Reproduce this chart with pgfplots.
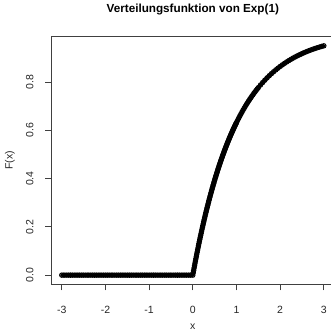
\documentclass[border=0pt]{standalone}
\usepackage{pgfplots}
\pgfplotsset{compat=1.18}
\usepackage{fontspec}
\setmainfont{Liberation Sans}
\pgfplotstableread[row sep=\\]{
x y\\
-3 0\\ -2.95 0\\ -2.9 0\\ -2.85 0\\ -2.8 0\\ -2.75 0\\ -2.7 0\\ -2.65 0\\ -2.6 0\\ -2.55 0\\
-2.5 0\\ -2.45 0\\ -2.4 0\\ -2.35 0\\ -2.3 0\\ -2.25 0\\ -2.2 0\\ -2.15 0\\ -2.1 0\\ -2.05 0\\
-2 0\\ -1.95 0\\ -1.9 0\\ -1.85 0\\ -1.8 0\\ -1.75 0\\ -1.7 0\\ -1.65 0\\ -1.6 0\\ -1.55 0\\
-1.5 0\\ -1.45 0\\ -1.4 0\\ -1.35 0\\ -1.3 0\\ -1.25 0\\ -1.2 0\\ -1.15 0\\ -1.1 0\\ -1.05 0\\
-1 0\\ -0.95 0\\ -0.9 0\\ -0.85 0\\ -0.8 0\\ -0.75 0\\ -0.7 0\\ -0.65 0\\ -0.6 0\\ -0.55 0\\
-0.5 0\\ -0.45 0\\ -0.4 0\\ -0.35 0\\ -0.3 0\\ -0.25 0\\ -0.2 0\\ -0.15 0\\ -0.1 0\\ -0.05 0\\
0.00 0.0000\\ 0.01 0.0100\\ 0.02 0.0198\\ 0.03 0.0296\\ 0.04 0.0392\\ 0.05 0.0488\\ 0.06 0.0582\\ 0.07 0.0676\\ 0.08 0.0769\\ 0.09 0.0861\\
0.10 0.0952\\ 0.11 0.1042\\ 0.12 0.1131\\ 0.13 0.1219\\ 0.14 0.1306\\ 0.15 0.1393\\ 0.16 0.1479\\ 0.17 0.1563\\ 0.18 0.1647\\ 0.19 0.1730\\
0.20 0.1813\\ 0.21 0.1894\\ 0.22 0.1975\\ 0.23 0.2055\\ 0.24 0.2134\\ 0.25 0.2212\\ 0.26 0.2289\\ 0.27 0.2366\\ 0.28 0.2442\\ 0.29 0.2517\\
0.30 0.2592\\ 0.31 0.2666\\ 0.32 0.2739\\ 0.33 0.2811\\ 0.34 0.2882\\ 0.35 0.2953\\ 0.36 0.3023\\ 0.37 0.3093\\ 0.38 0.3161\\ 0.39 0.3229\\
0.40 0.3297\\ 0.41 0.3364\\ 0.42 0.3430\\ 0.43 0.3495\\ 0.44 0.3560\\ 0.45 0.3624\\ 0.46 0.3687\\ 0.47 0.3750\\ 0.48 0.3812\\ 0.49 0.3874\\
0.50 0.3935\\ 0.51 0.3995\\ 0.52 0.4055\\ 0.53 0.4114\\ 0.54 0.4173\\ 0.55 0.4231\\ 0.56 0.4288\\ 0.57 0.4345\\ 0.58 0.4401\\ 0.59 0.4457\\
0.60 0.4512\\ 0.61 0.4566\\ 0.62 0.4621\\ 0.63 0.4674\\ 0.64 0.4727\\ 0.65 0.4780\\ 0.66 0.4831\\ 0.67 0.4883\\ 0.68 0.4934\\ 0.69 0.4984\\
0.70 0.5034\\ 0.71 0.5084\\ 0.72 0.5132\\ 0.73 0.5181\\ 0.74 0.5229\\ 0.75 0.5276\\ 0.76 0.5323\\ 0.77 0.5370\\ 0.78 0.5416\\ 0.79 0.5462\\
0.80 0.5507\\ 0.81 0.5551\\ 0.82 0.5596\\ 0.83 0.5640\\ 0.84 0.5683\\ 0.85 0.5726\\ 0.86 0.5768\\ 0.87 0.5811\\ 0.88 0.5852\\ 0.89 0.5893\\
0.90 0.5934\\ 0.91 0.5975\\ 0.92 0.6015\\ 0.93 0.6054\\ 0.94 0.6094\\ 0.95 0.6133\\ 0.96 0.6171\\ 0.97 0.6209\\ 0.98 0.6247\\ 0.99 0.6284\\
1.00 0.6321\\ 1.025 0.6412\\ 1.05 0.6501\\ 1.075 0.6587\\ 1.10 0.6671\\ 1.125 0.6754\\ 1.15 0.6834\\ 1.175 0.6912\\ 1.20 0.6988\\ 1.225 0.7063\\
1.25 0.7135\\ 1.275 0.7206\\ 1.30 0.7275\\ 1.325 0.7342\\ 1.35 0.7408\\ 1.375 0.7472\\ 1.40 0.7534\\ 1.425 0.7595\\ 1.45 0.7654\\ 1.475 0.7712\\
1.50 0.7769\\ 1.55 0.7878\\ 1.60 0.7981\\ 1.65 0.8080\\ 1.70 0.8173\\ 1.75 0.8262\\ 1.80 0.8347\\ 1.85 0.8428\\ 1.90 0.8504\\ 1.95 0.8577\\
2.00 0.8647\\ 2.05 0.8713\\ 2.10 0.8775\\ 2.15 0.8835\\ 2.20 0.8892\\ 2.25 0.8946\\ 2.30 0.8997\\ 2.35 0.9046\\ 2.40 0.9093\\ 2.45 0.9137\\
2.50 0.9179\\ 2.55 0.9219\\ 2.60 0.9257\\ 2.65 0.9294\\ 2.70 0.9328\\ 2.75 0.9361\\ 2.80 0.9392\\ 2.85 0.9422\\ 2.90 0.9450\\ 2.95 0.9477\\
3.00 0.9502\\
}\cdf
\begin{document}
\begin{tikzpicture}
\begin{axis}[
  at={(51.3pt,46.7pt)}, anchor=south west,
  scale only axis, width=283pt, height=247.6pt,
  xmin=-3.24, xmax=3.24, ymin=-0.038, ymax=0.988,
  axis line style={black!75, line width=0.9pt},
  xtick={-3,-2,-1,0,1,2,3},
  xticklabels={-3,-2,-1,0,1,2,3},
  ytick={0,0.2,0.4,0.6,0.8},
  yticklabels={0.0,0.2,0.4,0.6,0.8},
  tick align=outside, major tick length=6pt,
  xtick pos=bottom, ytick pos=left,
  tick style={black!75, line width=0.9pt},
  ticklabel style={font=\fontsize{10.5}{12}\selectfont, text=black!85},
  xticklabel style={anchor=center, inner sep=0pt}, xticklabel shift=19.4pt,
  yticklabel style={rotate=90, anchor=center, inner sep=0pt}, yticklabel shift=15.6pt,
  title={Verteilungsfunktion von Exp(1)},
  title style={font=\fontsize{11.7}{14}\selectfont\bfseries, at={(axis description cs:0.5,1.0735)}, anchor=base},
  xlabel={x},
  xlabel style={font=\fontsize{10.5}{12}\selectfont, text=black!85, at={(axis description cs:0.5,-0.1725)}, anchor=center},
  ylabel={F(x)},
  ylabel style={font=\fontsize{10.5}{12}\selectfont, text=black!85, at={(axis description cs:-0.146,0.5)}, anchor=center},
]
\addplot[black, line width=3.6pt, line cap=round, line join=round] table {\cdf};
\addplot[only marks, mark=o, mark size=2.2pt, mark options={line width=1.0pt, black}] table {\cdf};
\end{axis}
\pgfresetboundingbox
\useasboundingbox (0,0) rectangle (331pt,331pt);
\end{tikzpicture}
\end{document}
